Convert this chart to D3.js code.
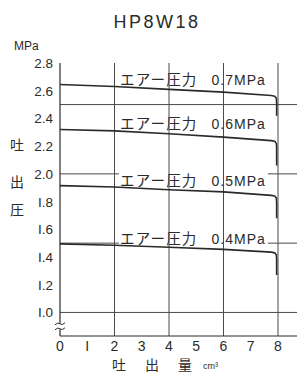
<!DOCTYPE html>
<html>
<head>
<meta charset="utf-8">
<script src="https://cdn.jsdelivr.net/npm/d3@7"></script>
<style>
  body { margin: 0; background: #fff; }
  svg { display: block; }
  text { fill: #2b2b2b; font-family: "Liberation Sans", "DejaVu Sans", sans-serif; }
  .jp { font-family: "Noto Sans CJK JP", sans-serif; }
</style>
</head>
<body>
<script>
// values
var xTicks = [0, 1, 2, 3, 4, 5, 6, 7, 8];
var xTickLabels = ['0', 'I', '2', '3', '4', '5', '6', '7', '8'];
var xGrid = [2, 4, 6, 8];
var yTicks = [2.8, 2.6, 2.4, 2.2, 2.0, 1.8, 1.6, 1.4, 1.2, 1.0];
var yTickLabels = ['2.8', '2.6', '2.4', '2.2', '2.0', 'I.8', 'I.6', 'I.4', 'I.2', 'I.0'];
var yGrid = [2.5, 2.0, 1.5, 1.0];

var airLabels = ['0.7MPa', '0.6MPa', '0.5MPa', '0.4MPa'];
var flowX = [0, 2, 4, 6, 7.75, 7.88, 7.94, 7.95, 7.95];
var p07 = [2.645, 2.63, 2.61, 2.59, 2.565, 2.56, 2.545, 2.51, 2.42];
var p06 = [2.32, 2.31, 2.29, 2.265, 2.24, 2.235, 2.22, 2.19, 2.06];
var p05 = [1.915, 1.905, 1.885, 1.87, 1.845, 1.84, 1.825, 1.79, 1.68];
var p04 = [1.495, 1.485, 1.47, 1.455, 1.435, 1.43, 1.415, 1.38, 1.27];
var series = [p07, p06, p05, p04];

var W = 297, H = 379;
var svg = d3.select('body').append('svg').attr('width', W).attr('height', H);

var x = d3.scaleLinear().domain([0, 8]).range([60, 278]);
var y = d3.scaleLinear().domain([0.83, 2.8]).range([336, 63]);

var lineColor = '#2a2a2a';
var gridColor = '#4a4a4a';

// title and unit
svg.append('text').attr('x', 157).attr('y', 28).attr('text-anchor', 'middle')
  .style('font-size', '18px').style('letter-spacing', '2.5px').text('HP8W18');
svg.append('text').attr('x', 14).attr('y', 50).style('font-size', '12px').text('MPa');

// horizontal grid lines run to the right edge
svg.selectAll('.hgrid').data(yGrid).enter().append('line')
  .attr('class', 'hgrid')
  .attr('x1', x(0)).attr('x2', W)
  .attr('y1', function (d) { return y(d); }).attr('y2', function (d) { return y(d); })
  .attr('stroke', gridColor).attr('stroke-width', 1);

// air pressure labels, sitting just above each curve
var labelGroup = svg.append('g');
series.forEach(function (s, i) {
  var base = y(s[1]) - 1.5;
  var t = labelGroup.append('text').attr('x', x(2.2)).attr('y', base);
  t.append('tspan').attr('class', 'jp').style('font-size', '14.5px').style('letter-spacing', '1.2px').text('エアー圧力');
  t.append('tspan').attr('dx', 14).style('font-size', '14px').style('letter-spacing', '1px').text(airLabels[i]);
  var bb = t.node().getBBox();
  labelGroup.insert('rect', 'text')
    .attr('x', bb.x - 1).attr('y', bb.y + 1)
    .attr('width', bb.width + 3).attr('height', bb.height - 3)
    .attr('fill', '#fff');
});

// vertical grid lines
svg.selectAll('.vgrid').data(xGrid).enter().append('line')
  .attr('class', 'vgrid')
  .attr('x1', function (d) { return x(d); }).attr('x2', function (d) { return x(d); })
  .attr('y1', y(2.8)).attr('y2', y(0.83))
  .attr('stroke', gridColor).attr('stroke-width', 1);

// axes
svg.append('line').attr('x1', x(0)).attr('x2', x(0)).attr('y1', y(2.8)).attr('y2', y(0.83))
  .attr('stroke', lineColor).attr('stroke-width', 1.2);
svg.append('line').attr('x1', x(0)).attr('x2', W).attr('y1', y(0.83)).attr('y2', y(0.83))
  .attr('stroke', lineColor).attr('stroke-width', 1.2);

// discharge curves
var line = d3.line()
  .x(function (d, i) { return x(flowX[i]); })
  .y(function (d) { return y(d); })
  .curve(d3.curveLinear);
svg.selectAll('.curve').data(series).enter().append('path')
  .attr('class', 'curve')
  .attr('d', line)
  .attr('fill', 'none').attr('stroke', lineColor).attr('stroke-width', 1.6)
  .attr('stroke-linejoin', 'round');

// axis break mark
var brk = svg.append('g').attr('transform', 'translate(' + x(0) + ',' + y(0.9) + ')');
brk.append('rect').attr('x', -1.5).attr('y', -3).attr('width', 3).attr('height', 6).attr('fill', '#fff');
[-2.5, 2.5].forEach(function (dy) {
  brk.append('path')
    .attr('d', 'M-5,' + (dy + 1) + ' Q-2,' + (dy - 2) + ' 0,' + dy + ' T5,' + (dy - 1))
    .attr('fill', 'none').attr('stroke', lineColor).attr('stroke-width', 1);
});

// y tick labels
svg.selectAll('.ylab').data(yTicks).enter().append('text')
  .attr('class', 'ylab')
  .attr('x', 53).attr('y', function (d) { return y(d) + 5; })
  .attr('text-anchor', 'end').style('font-size', '13.5px')
  .text(function (d, i) { return yTickLabels[i]; });

// x tick labels
svg.selectAll('.xlab').data(xTicks).enter().append('text')
  .attr('class', 'xlab')
  .attr('x', function (d) { return x(d); }).attr('y', 351)
  .attr('text-anchor', 'middle').style('font-size', '14px')
  .text(function (d, i) { return xTickLabels[i]; });

// vertical axis title
['吐', '出', '圧'].forEach(function (c, i) {
  svg.append('text').attr('class', 'jp').attr('x', 17).attr('y', [150, 187, 215][i])
    .attr('text-anchor', 'middle').style('font-size', '14px').text(c);
});

// horizontal axis title
['吐', '出', '量'].forEach(function (c, i) {
  svg.append('text').attr('class', 'jp').attr('x', [119, 152, 185][i]).attr('y', 370)
    .attr('text-anchor', 'middle').style('font-size', '14px').text(c);
});
svg.append('text').attr('x', 203).attr('y', 369).style('font-size', '9px').text('cm³');
</script>
</body>
</html>
